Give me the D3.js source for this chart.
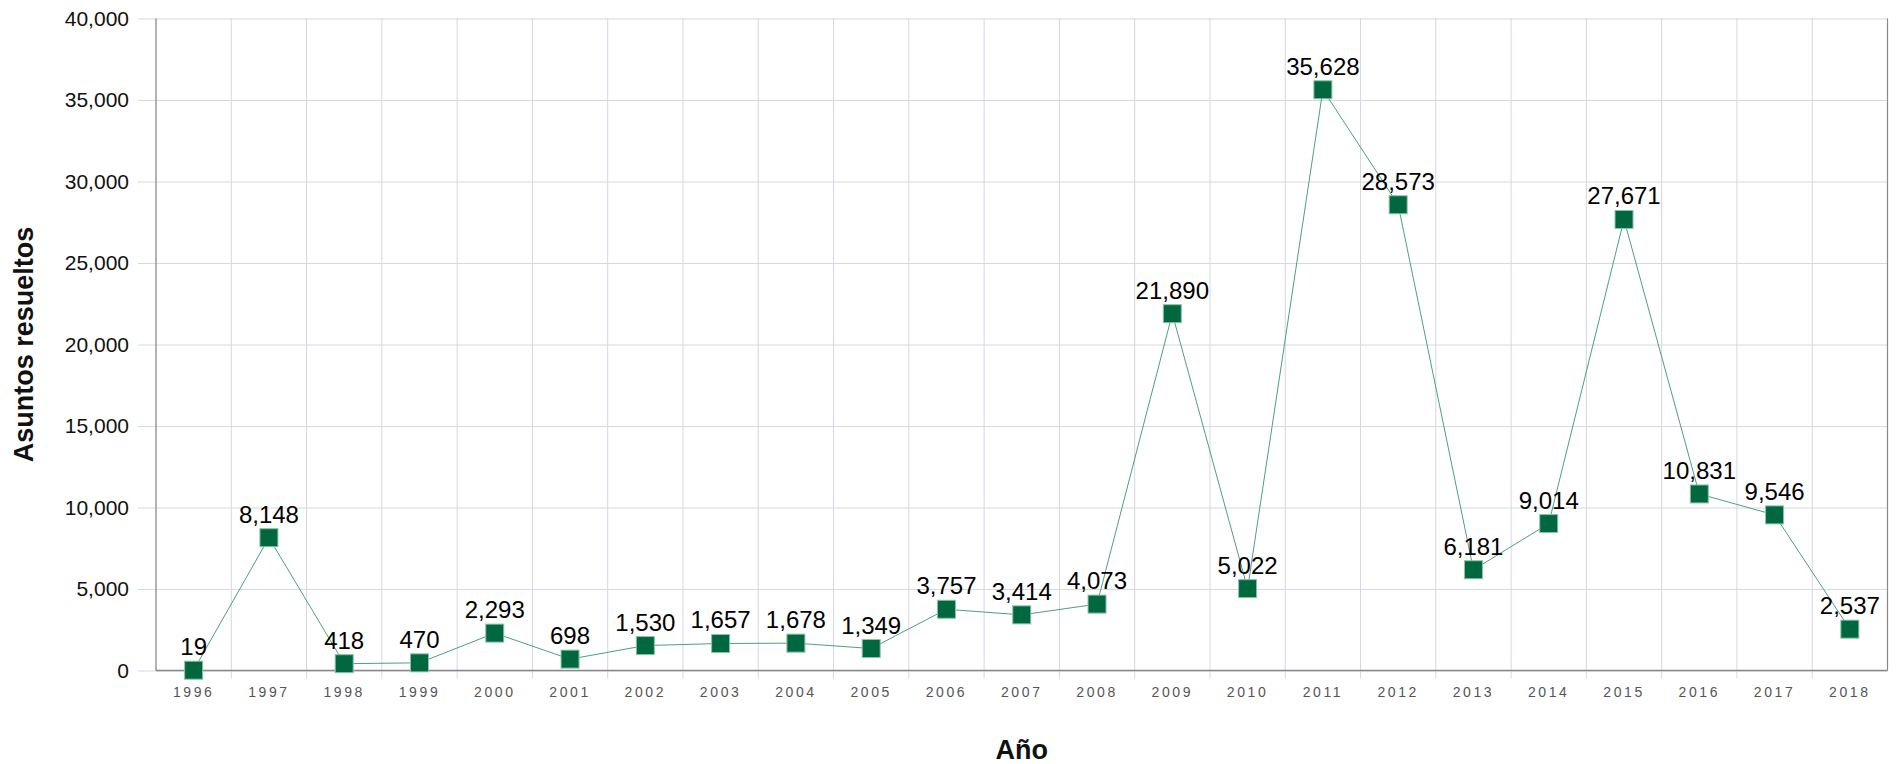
<!DOCTYPE html>
<html>
<head>
<meta charset="utf-8">
<script src="https://cdn.jsdelivr.net/npm/d3@7"></script>
<style>
  body { margin: 0; background: #fff; }
  svg { display: block; font-family: "Liberation Sans", Arial, sans-serif; }
</style>
</head>
<body>
<svg id="svg-board"></svg>
<script>
const years = ["1996", "1997", "1998", "1999", "2000", "2001", "2002", "2003", "2004", "2005",
               "2006", "2007", "2008", "2009", "2010", "2011", "2012", "2013", "2014", "2015",
               "2016", "2017", "2018"];
const resueltos = [19, 8148, 418, 470, 2293, 698, 1530, 1657, 1678, 1349,
                   3757, 3414, 4073, 21890, 5022, 35628, 28573, 6181, 9014, 27671,
                   10831, 9546, 2537];
const yTicks = [0, 5000, 10000, 15000, 20000, 25000, 30000, 35000, 40000];

const boardWidth = 1897;
const boardHeight = 764;
const margin = {top: 18.5, right: 9.5, bottom: 93.5, left: 156};

let svgBoard = d3.select("#svg-board")
    .attr("width", boardWidth)
    .attr("height", boardHeight);

const plotW = boardWidth - margin.left - margin.right;
const plotH = boardHeight - margin.top - margin.bottom;

let xScale = d3.scaleBand().domain(years).range([0, plotW]);
let yScale = d3.scaleLinear().domain([0, 40000]).range([plotH, 0]);
const fmt = d3.format(",");

let g = svgBoard.append("g")
    .attr("transform", `translate(${margin.left},${margin.top})`);

// horizontal gridlines + y labels
let yAxis = d3.axisLeft(yScale)
    .tickValues(yTicks)
    .tickSize(18)
    .tickFormat(fmt);
let yAxisG = g.append("g").call(yAxis);
yAxisG.select(".domain").remove();
yAxisG.selectAll(".tick line")
    .attr("x2", plotW)
    .attr("x1", -18)
    .attr("stroke", "#d6d6e4");
yAxisG.selectAll(".tick text")
    .attr("x", -27)
    .attr("font-size", 21)
    .attr("fill", "#111");

// vertical gridlines at band edges
const edges = years.map(d => xScale(d)).concat([plotW]);
g.selectAll(".vgrid")
    .data(edges.slice(1, -1))
    .enter()
    .append("line")
    .attr("class", "vgrid")
    .attr("x1", d => d).attr("x2", d => d)
    .attr("y1", 0).attr("y2", plotH + 8)
    .attr("stroke", "#d6d6e4");

// x labels
let xAxis = d3.axisBottom(xScale).tickSize(0);
let xAxisG = g.append("g")
    .attr("transform", `translate(0,${plotH})`)
    .call(xAxis);
xAxisG.select(".domain").remove();
xAxisG.selectAll(".tick text")
    .attr("y", 26)
    .attr("dy", 0)
    .attr("font-size", 14)
    .attr("letter-spacing", 2.6)
    .attr("fill", "#555");

// frame: left axis, bottom axis, right border
g.append("line").attr("x1", 0).attr("x2", 0).attr("y1", 0).attr("y2", plotH)
    .attr("stroke", "#999").attr("stroke-width", 1.5);
g.append("line").attr("x1", 0).attr("x2", plotW).attr("y1", plotH).attr("y2", plotH)
    .attr("stroke", "#888").attr("stroke-width", 1.5);
g.append("line").attr("x1", plotW).attr("x2", plotW).attr("y1", 0).attr("y2", plotH)
    .attr("stroke", "#888").attr("stroke-width", 1.2);

const cx = (d, i) => xScale(years[i]) + xScale.bandwidth() / 2;

// series line
let line = d3.line()
    .x((d, i) => cx(d, i))
    .y(d => yScale(d));
g.append("path")
    .datum(resueltos)
    .attr("d", line)
    .attr("fill", "none")
    .attr("stroke", "#4f9e83")
    .attr("stroke-width", 1);

// data labels
g.selectAll(".lbl")
    .data(resueltos)
    .enter()
    .append("text")
    .attr("class", "lbl")
    .attr("x", cx)
    .attr("y", d => yScale(d) - 15)
    .attr("text-anchor", "middle")
    .attr("font-size", 24)
    .attr("fill", "#000")
    .text(d => fmt(d));

// markers
const ms = 18;
g.selectAll(".mk")
    .data(resueltos)
    .enter()
    .append("rect")
    .attr("class", "mk")
    .attr("x", (d, i) => cx(d, i) - ms / 2)
    .attr("y", d => yScale(d) - ms / 2)
    .attr("width", ms)
    .attr("height", ms)
    .attr("fill", "#00673f")
    .attr("stroke", "#8cc2ab")
    .attr("stroke-width", 1);

// axis titles
svgBoard.append("text")
    .attr("transform", `translate(33,${margin.top + plotH / 2}) rotate(-90)`)
    .attr("text-anchor", "middle")
    .attr("font-size", 27)
    .attr("font-weight", "bold")
    .attr("fill", "#111")
    .text("Asuntos resueltos");

svgBoard.append("text")
    .attr("x", margin.left + plotW / 2)
    .attr("y", 759)
    .attr("text-anchor", "middle")
    .attr("font-size", 27)
    .attr("font-weight", "bold")
    .attr("fill", "#111")
    .text("Año");
</script>
</body>
</html>
